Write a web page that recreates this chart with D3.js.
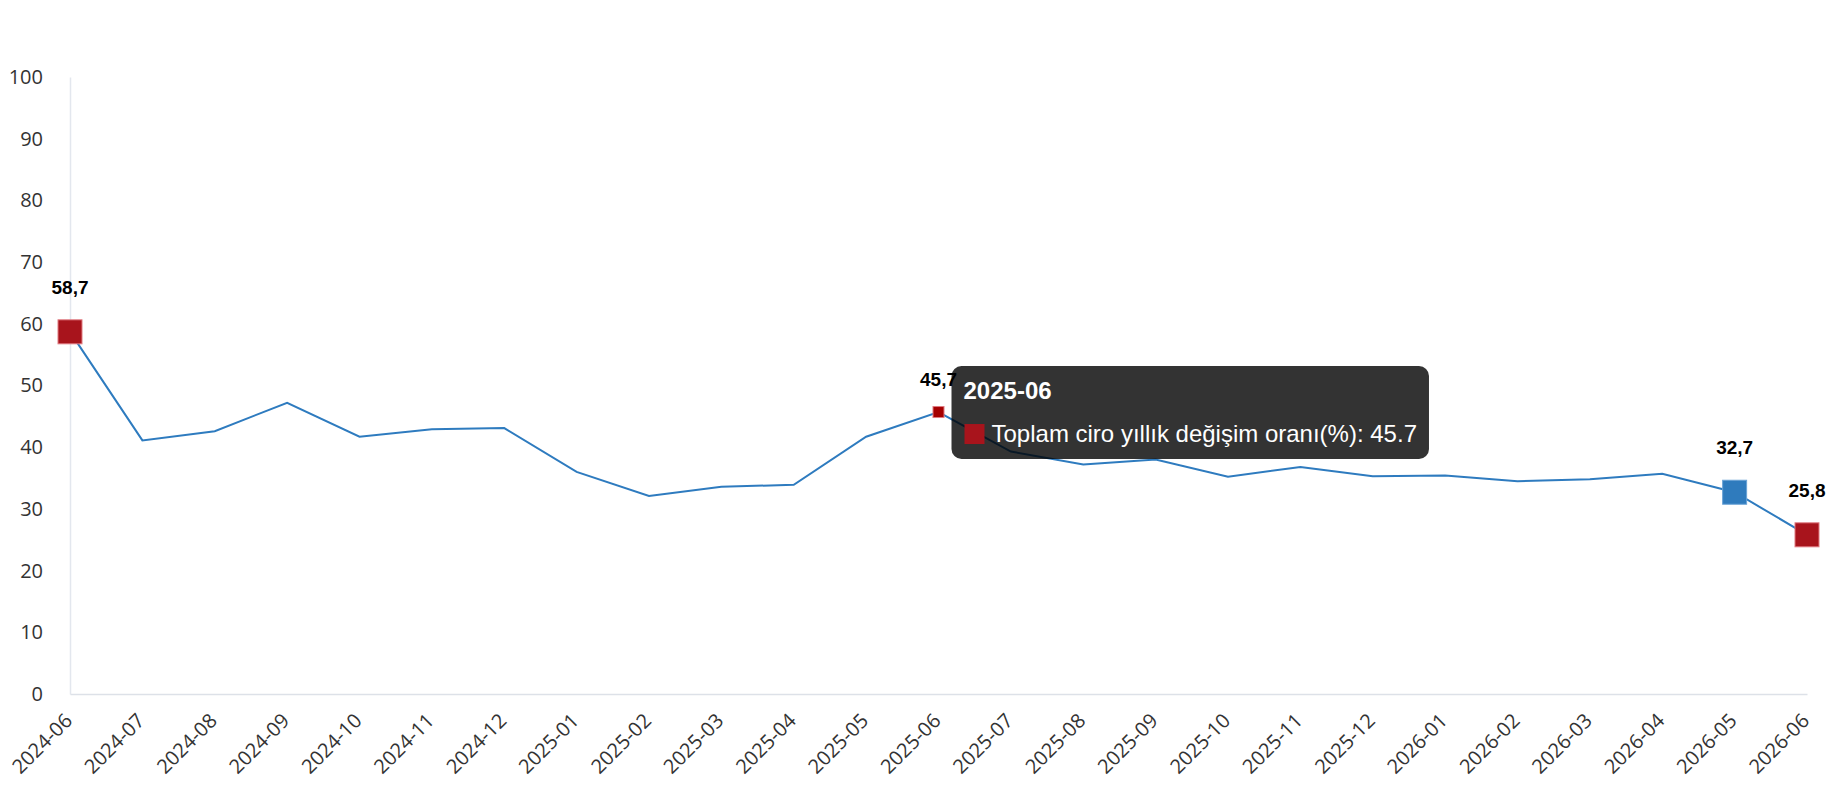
<!DOCTYPE html>
<html>
<head>
<meta charset="utf-8">
<script src="https://cdn.jsdelivr.net/npm/d3@7"></script>
<style>
  html, body { margin: 0; padding: 0; background: #fff; }
  svg { display: block; }
</style>
</head>
<body>
<div id="chart"></div>
<script>
// categories and values
var categories = ["2024-06","2024-07","2024-08","2024-09","2024-10","2024-11","2024-12",
  "2025-01","2025-02","2025-03","2025-04","2025-05","2025-06","2025-07","2025-08","2025-09",
  "2025-10","2025-11","2025-12","2026-01","2026-02","2026-03","2026-04","2026-05","2026-06"];
var values = [58.7, 41.1, 42.6, 47.2, 41.7, 42.9, 43.1, 36.0, 32.1, 33.6, 33.9, 41.7, 45.7,
  39.3, 37.2, 38.0, 35.2, 36.8, 35.3, 35.4, 34.5, 34.8, 35.7, 32.7, 25.8];
var yTicks = [0, 10, 20, 30, 40, 50, 60, 70, 80, 90, 100];
var labelled = ["2024-06", "2025-06", "2026-05", "2026-06"];
var hovered = "2025-06";
var seriesName = "Toplam ciro yıllık değişim oranı(%)";

var width = 1830, height = 800;
var red = "#a8141c", blue = "#2f7bbd";

var svg = d3.select("#chart").append("svg")
  .attr("width", width)
  .attr("height", height);

var x = d3.scalePoint().domain(categories).range([70, 1807]);
var y = d3.scaleLinear().domain([0, 100]).range([694, 77]);

// y axis
var yAxis = svg.append("g")
  .attr("transform", "translate(70,0)")
  .call(d3.axisLeft(y).tickValues(yTicks).tickSize(0).tickPadding(27));
yAxis.select(".domain").attr("stroke", "#e3e7ee").attr("stroke-width", 1.5);
yAxis.selectAll("text")
  .attr("fill", "#333")
  .style("font-family", "'Open Sans', sans-serif")
  .style("font-size", "20px");

// x axis
var xAxis = svg.append("g")
  .attr("transform", "translate(0,694)")
  .call(d3.axisBottom(x).tickSize(0));
xAxis.select(".domain").attr("stroke", "#dde1e8").attr("stroke-width", 1.5);
xAxis.selectAll("text")
  .attr("fill", "#333")
  .style("font-family", "'Open Sans', sans-serif")
  .style("font-size", "20px")
  .attr("text-anchor", "end")
  .attr("y", 0).attr("dy", 0)
  .attr("transform", "translate(3,28) rotate(-45)");

// the line
var line = d3.line()
  .x(function(d, i) { return x(categories[i]); })
  .y(function(d) { return y(d); });

svg.append("path")
  .datum(values)
  .attr("fill", "none")
  .attr("stroke", "#2e7bbf")
  .attr("stroke-width", 2)
  .attr("d", line);

// marked points
var pts = categories.map(function(c, i) { return {cat: c, val: values[i]}; })
  .filter(function(d) { return labelled.indexOf(d.cat) >= 0; });

svg.selectAll("rect.mark").data(pts)
  .enter().append("rect")
  .attr("class", "mark")
  .each(function(d) {
    var s = d.cat === hovered ? 11 : 24;
    d3.select(this)
      .attr("x", x(d.cat) - s / 2)
      .attr("y", y(d.val) - s / 2)
      .attr("width", s)
      .attr("height", s)
      .attr("fill", d.cat === hovered ? "#a50000" : (d.cat === "2026-05" ? blue : red))
      .attr("stroke", d.cat === "2026-05" ? "#6aa3d6" : "#e07a80")
      .attr("stroke-width", 1);
  });

svg.selectAll("text.vlabel").data(pts)
  .enter().append("text")
  .attr("class", "vlabel")
  .attr("x", function(d) { return x(d.cat); })
  .attr("y", function(d) { return y(d.val) - (d.cat === hovered ? 26 : 38); })
  .attr("text-anchor", "middle")
  .style("font-family", "'Liberation Sans', Arial, sans-serif")
  .style("font-weight", "bold")
  .style("font-size", "19px")
  .attr("fill", "#000")
  .text(function(d) { return String(d.val.toFixed(1)).replace(".", ","); });

// tooltip
var hi = categories.indexOf(hovered);
var tx = x(hovered) + 13, ty = y(values[hi]) - 46;
var tip = svg.append("g").attr("transform", "translate(" + tx + "," + ty + ")");
var box = tip.append("rect")
  .attr("rx", 10).attr("ry", 10)
  .attr("fill", "rgba(0,0,0,0.8)");
tip.append("text")
  .attr("x", 12).attr("y", 33)
  .attr("fill", "#fff")
  .style("font-family", "'Liberation Sans', Arial, sans-serif")
  .style("font-weight", "bold")
  .style("font-size", "24px")
  .text(hovered);
tip.append("rect")
  .attr("x", 13).attr("y", 58)
  .attr("width", 20).attr("height", 20)
  .attr("fill", red);
var entry = tip.append("text")
  .attr("x", 40).attr("y", 76)
  .attr("fill", "#fff")
  .style("font-family", "'Liberation Sans', Arial, sans-serif")
  .style("font-size", "24px")
  .text(seriesName + ": " + values[hi]);
var tw = entry.node().getComputedTextLength();
box.attr("width", 40 + tw + 12).attr("height", 93);
</script>
</body>
</html>
